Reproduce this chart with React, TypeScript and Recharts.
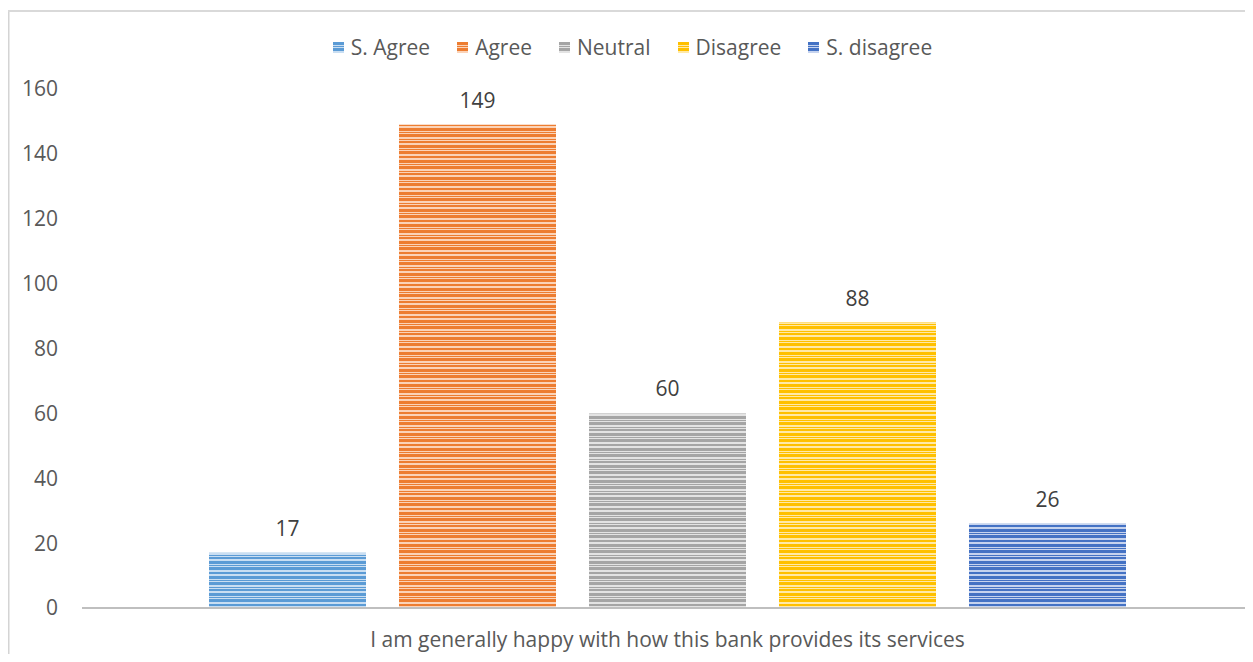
import React from "react";
import { Bar, BarChart, LabelList, Legend, XAxis, YAxis } from "recharts";

const category = "I am generally happy with how this bank provides its services";
const seriesKeys = ["sAgree", "agree", "neutral", "disagree", "sDisagree"];
const seriesNames = ["S. Agree", "Agree", "Neutral", "Disagree", "S. disagree"];
const seriesValues = [17, 149, 60, 88, 26];
const darkColors = ["#5b9bd5", "#ed7d31", "#a5a5a5", "#ffc000", "#4472c4"];
const lightColors = ["#c9def2", "#fbd3b8", "#e3e3e3", "#ffe9a8", "#c6d3ee"];
const yTicks = [0, 20, 40, 60, 80, 100, 120, 140, 160];

const row: Record<string, string | number> = { name: category };
seriesKeys.forEach((k, i) => (row[k] = seriesValues[i]));
const data = [row];

const FONT = "'Open Sans', sans-serif";

// irregular horizontal stripes, like the Excel line fill
const stripes = [
  [0, 3],
  [4, 1],
  [6, 3],
  [11, 1],
  [13, 2],
  [17, 3],
  [21, 1],
  [23, 3],
  [28, 2],
];

function Patterns() {
  return (
    <svg width={0} height={0} style={{ position: "absolute" }}>
      <defs>
        {seriesKeys.map((k, i) => (
          <pattern key={k} id={`pat-${k}`} patternUnits="userSpaceOnUse" width={10} height={32}>
            <rect x={0} y={0} width={10} height={32} fill={lightColors[i]} />
            {stripes.map(([y, h], j) => (
              <rect key={j} x={0} y={y} width={10} height={h} fill={darkColors[i]} />
            ))}
          </pattern>
        ))}
      </defs>
    </svg>
  );
}

function LegendContent() {
  return (
    <div style={{ display: "flex", justifyContent: "center", gap: 27, fontFamily: FONT, fontSize: 21, color: "#595959", paddingLeft: 12 }}>
      {seriesKeys.map((k, i) => (
        <div key={k} style={{ display: "flex", alignItems: "center", gap: 7 }}>
          <svg width={11} height={11}>
            <rect width={11} height={11} fill={`url(#pat-${k})`} />
          </svg>
          <span>{seriesNames[i]}</span>
        </div>
      ))}
    </div>
  );
}

export default function App() {
  return (
    <div style={{ position: "relative", width: 1253, height: 662, margin: -8, overflow: "hidden", background: "#fff" }}>
      <Patterns />
      <div style={{ position: "absolute", left: 0, top: 0 }}>
        <BarChart
          width={1253}
          height={662}
          data={data}
          margin={{ top: 61, right: 0, bottom: 0, left: 0 }}
          barCategoryGap={127}
          barGap={33}
        >
          <Legend verticalAlign="top" content={<LegendContent />} wrapperStyle={{ top: 33 }} />
          <YAxis
            width={82}
            domain={[0, 160]}
            ticks={yTicks}
            axisLine={false}
            tickLine={false}
            tickSize={0}
            tickMargin={24}
            tick={{ fill: "#595959", fontSize: 21, fontFamily: FONT }}
          />
          <XAxis
            dataKey="name"
            height={54}
            axisLine={{ stroke: "#bfbfbf", strokeWidth: 2 }}
            tickLine={false}
            tickSize={0}
            tickMargin={24}
            tick={{ fill: "#595959", fontSize: 21, fontFamily: FONT }}
          />
          {seriesKeys.map((k, i) => (
            <Bar key={k} dataKey={k} name={seriesNames[i]} fill={`url(#pat-${k})`} isAnimationActive={false}>
              <LabelList dataKey={k} position="top" offset={17} fill="#404040" fontSize={21} fontFamily={FONT} />
            </Bar>
          ))}
        </BarChart>
      </div>
      {/* chart-area frame, only its top and left edges are in view */}
      <svg
        width={1253}
        height={662}
        style={{ position: "absolute", left: 0, top: 0, pointerEvents: "none" }}
      >
        <line x1={8} y1={10} x2={8} y2={662} stroke="#d4d4d4" strokeWidth={3} />
        <line x1={7} y1={11} x2={1253} y2={11} stroke="#d9d9d9" strokeWidth={2} />
      </svg>
    </div>
  );
}
